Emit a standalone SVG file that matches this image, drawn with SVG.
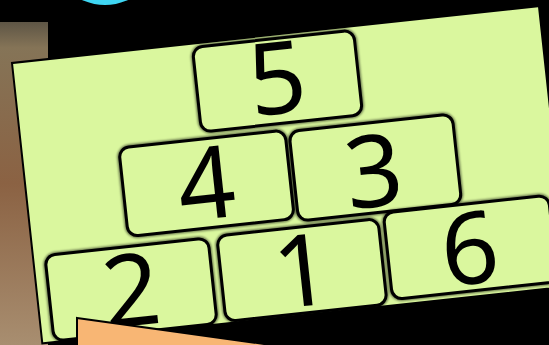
<svg xmlns="http://www.w3.org/2000/svg" width="549" height="345" viewBox="0 0 549 345">
<defs>
 <linearGradient id="wood" x1="0" y1="0" x2="0" y2="1">
  <stop offset="0" stop-color="#5e5545"/>
  <stop offset="0.08" stop-color="#857457"/>
  <stop offset="0.5" stop-color="#8b6243"/>
  <stop offset="1" stop-color="#a88e70"/>
 </linearGradient>
 <filter id="blur" x="-10%" y="-10%" width="120%" height="120%">
  <feGaussianBlur stdDeviation="1.3"/>
 </filter>
</defs>
<style>
 .card{fill:#daf79e;stroke:#000;stroke-width:2}
 .tile .face{fill:#daf79e;stroke:#000;stroke-width:3}
 .tile .sh{fill:none;stroke:#000;stroke-width:5;filter:url(#blur);opacity:.55}
 .num{font-family:"Noto Sans","DejaVu Sans",sans-serif;font-size:100px;fill:#000;text-anchor:middle}
</style>
<rect width="549" height="345" fill="#000"/>
<rect x="0" y="22" width="48" height="323" fill="url(#wood)"/>
<circle cx="105" cy="-50" r="55" fill="#3fd6f3"/>
<g id="card" transform="translate(12,63) rotate(-6.17)">
 <rect class="card" x="0" y="0" width="530" height="282"/>
 <g id="tile5" class="tile">
  <rect class="sh" x="181" y="4" width="162" height="85" rx="10"/>
  <rect class="face" x="181" y="4" width="162" height="85" rx="10"/>
  <text class="num" x="262" y="79">5</text>
 </g>
 <g id="tile4" class="tile">
  <rect class="sh" x="97" y="96" width="167" height="89" rx="10"/>
  <rect class="face" x="97" y="96" width="167" height="89" rx="10"/>
  <text class="num" x="180" y="176">4</text>
 </g>
 <g id="tile3" class="tile">
  <rect class="sh" x="268" y="98" width="164" height="90" rx="10"/>
  <rect class="face" x="268" y="98" width="164" height="90" rx="10"/>
  <text class="num" x="348" y="182">3</text>
 </g>
 <g id="tile2" class="tile">
  <rect class="sh" x="12" y="195" width="164" height="86" rx="10"/>
  <rect class="face" x="12" y="195" width="164" height="86" rx="10"/>
  <text class="num" x="94" y="274">2</text>
 </g>
 <g id="tile1" class="tile">
  <rect class="sh" x="185" y="194" width="162" height="86" rx="10"/>
  <rect class="face" x="185" y="194" width="162" height="86" rx="10"/>
  <text class="num" x="266" y="273">1</text>
 </g>
 <g id="tile6" class="tile">
  <rect class="sh" x="353" y="189" width="166" height="87" rx="10"/>
  <rect class="face" x="353" y="189" width="166" height="87" rx="10"/>
  <text class="num" x="435" y="269">6</text>
 </g>
</g>
<path id="orange" d="M77,318 L300,349 L77,349 Z" fill="#f8b674" stroke="#000" stroke-width="2"/>
</svg>
